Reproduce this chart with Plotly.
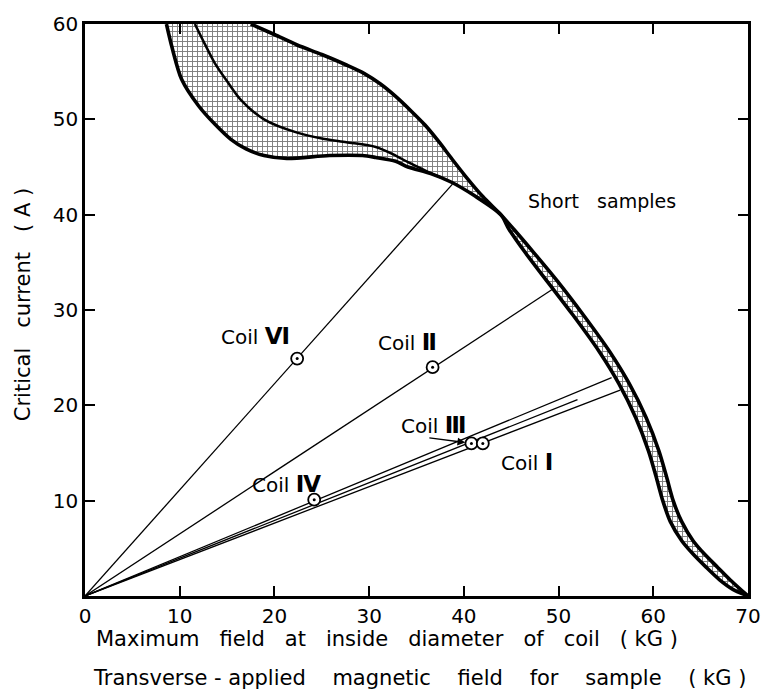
import plotly.graph_objects as go

# ---- data ----
# outer (upper/right) boundary of the short-sample band
upper_x = [17.5, 20.0, 22.4, 25.0, 27.6, 29.5, 31.2, 32.8, 34.4, 35.9, 37.4, 38.7, 40.2, 42.0, 43.9,
           45.25, 47.4, 49.9, 52.6, 55.35, 57.45, 59.25, 60.6, 61.4, 62.1, 63.0, 64.2, 65.4, 66.8, 68.1, 69.2, 70.0]
upper_y = [60.0, 58.9, 57.8, 56.8, 55.7, 54.8, 53.7, 52.4, 50.9, 49.4, 47.6, 45.9, 44.0, 41.9, 40.0,
           38.5, 36.0, 33.0, 29.5, 25.7, 22.3, 18.7, 15.2, 12.5, 10.0, 7.8, 5.8, 4.4, 3.0, 1.7, 0.7, 0.0]
# inner (lower/left) boundary
lower_x = [8.6, 9.2, 10.2, 12.0, 13.7, 15.4, 17.0, 18.9, 21.3, 25.8, 29.3, 30.7, 32.8, 34.1, 36.5, 38.7, 41.1, 43.9,
           44.75, 46.5, 48.8, 51.5, 54.25, 56.35, 58.15, 59.5, 60.3, 61.0, 61.8, 63.0, 64.2, 65.6, 67.0, 68.4, 70.0]
lower_y = [60.0, 57.5, 54.2, 51.4, 49.5, 47.9, 46.9, 46.2, 45.9, 46.2, 46.2, 46.0, 45.6, 45.0, 44.3, 43.4, 42.0, 40.0,
           38.5, 36.0, 33.0, 29.5, 25.7, 22.3, 18.7, 15.2, 12.5, 10.0, 7.8, 5.8, 4.4, 3.0, 1.7, 0.7, 0.0]
# middle curve inside the band
middle_x = [11.6, 12.6, 13.7, 15.0, 16.4, 18.9, 22.4, 25.0, 27.6, 30.7, 32.8, 34.1, 36.0, 37.6]
middle_y = [60.0, 58.0, 55.9, 54.0, 52.1, 50.0, 48.6, 48.0, 47.6, 47.1, 46.2, 45.5, 44.6, 43.9]

# coil load lines (from origin) and measured points
coil_names = ["Ⅵ", "Ⅱ", "Ⅳ", "Ⅲ", "Ⅰ"]
coil_end_x = [38.8, 49.4, 55.6, 52.0, 56.5]
coil_end_y = [43.2, 32.2, 22.9, 20.6, 21.6]
coil_pt_x = [22.4, 36.7, 24.2, 40.8, 42.0]
coil_pt_y = [24.9, 24.0, 10.1, 16.0, 16.0]
label_x = [18.0, 34.0, 21.3, 36.8, 46.7]
label_y = [27.3, 26.6, 11.8, 17.9, 14.1]

x_ticks = [0, 10, 20, 30, 40, 50, 60, 70]
y_ticks = [10, 20, 30, 40, 50, 60]

FONT = "DejaVu Sans"

fig = go.Figure()

# hatched band (fill only)
fig.add_trace(go.Scatter(
    x=upper_x + lower_x[::-1], y=upper_y + lower_y[::-1],
    mode="lines", fill="toself", fillcolor="white",
    fillpattern=dict(shape="+", size=5, solidity=0.35, fgcolor="black", bgcolor="white"),
    line=dict(color="rgba(0,0,0,0)", width=0, shape="spline", smoothing=0.8),
    hoverinfo="skip", showlegend=False))
# boundary curves
for cx, cy, w in [(upper_x, upper_y, 3.6), (lower_x, lower_y, 3.6), (middle_x, middle_y, 2.5)]:
    fig.add_trace(go.Scatter(x=cx, y=cy, mode="lines",
                             line=dict(color="black", width=w, shape="spline", smoothing=0.8),
                             hoverinfo="skip", showlegend=False))

# load lines
for i in range(len(coil_names)):
    fig.add_trace(go.Scatter(x=[0, coil_end_x[i]], y=[0, coil_end_y[i]], mode="lines",
                             line=dict(color="black", width=1.3), showlegend=False))

# measured points (circle with centre dot)
fig.add_trace(go.Scatter(x=coil_pt_x, y=coil_pt_y, mode="markers",
                         marker=dict(symbol="circle", size=12, color="white",
                                     line=dict(color="black", width=1.8)),
                         showlegend=False))
fig.add_trace(go.Scatter(x=coil_pt_x, y=coil_pt_y, mode="markers",
                         marker=dict(symbol="circle", size=3, color="black"),
                         showlegend=False))

annotations = []
for i, name in enumerate(coil_names):
    annotations.append(dict(x=label_x[i], y=label_y[i],
                            text="Coil <b><span style='font-size:23px'>" + name + "</span></b>",
                            showarrow=False, font=dict(family=FONT, size=20, color="black")))
# arrow to coil III point
annotations.append(dict(x=40.15, y=16.1, ax=36.2, ay=16.6, xref="x", yref="y", axref="x", ayref="y",
                        text="", showarrow=True, arrowhead=2, arrowsize=1.2, arrowwidth=1.3,
                        arrowcolor="black"))
annotations.append(dict(x=54.6, y=41.4, text="Short   samples", showarrow=False,
                        font=dict(family=FONT, size=19, color="black")))
annotations.append(dict(x=0.456, y=-0.0745, xref="paper", yref="paper", showarrow=False,
                        text="Maximum   field   at   inside   diameter   of   coil   ( kG )",
                        font=dict(family=FONT, size=21, color="black"), xanchor="center", yanchor="middle"))
annotations.append(dict(x=0.505, y=-0.1426, xref="paper", yref="paper", showarrow=False,
                        text="Transverse - applied    magnetic    field    for    sample    ( kG )",
                        font=dict(family=FONT, size=21, color="black"), xanchor="center", yanchor="middle"))
annotations.append(dict(x=-0.0936, y=0.51, xref="paper", yref="paper", showarrow=False, textangle=-90,
                        text="Critical   current   ( A )",
                        font=dict(family=FONT, size=21, color="black"), xanchor="center", yanchor="middle"))

axis_common = dict(showgrid=False, zeroline=False, showline=True, linecolor="black", linewidth=2.5,
                   mirror="ticks", ticks="inside", ticklen=10, tickwidth=2, tickcolor="black",
                   tickfont=dict(family=FONT, size=20, color="black"))

fig.update_layout(
    width=773, height=697,
    margin=dict(l=85, r=15, t=21, b=101),
    paper_bgcolor="white", plot_bgcolor="white",
    xaxis=dict(range=[0, 70], tickvals=x_ticks, **axis_common),
    yaxis=dict(range=[0, 60], tickvals=y_ticks, **axis_common),
    annotations=annotations,
    showlegend=False,
)

fig.write_html("out.html")
